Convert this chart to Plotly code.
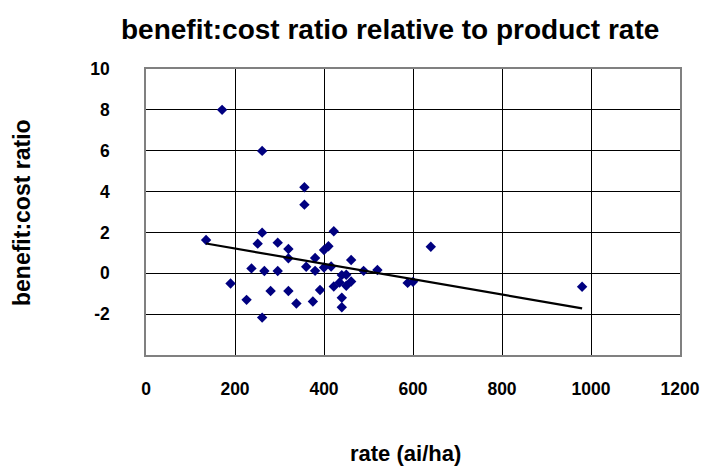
import numpy as np
import plotly.graph_objects as go

# rate (ai/ha)
rate = [135, 171, 190, 226, 237, 251, 261, 261, 261, 266, 280, 296, 296,
        320, 320, 320, 338, 356, 356, 360, 375, 380, 380, 391, 400, 400,
        410, 416, 422, 422, 435, 440, 440, 440, 450, 450, 461, 461, 489,
        520, 588, 600, 640, 980]
# benefit:cost ratio
ratio = [1.63, 8.0, -0.50, -1.30, 0.24, 1.45, 1.99, 5.99, -2.17, 0.11, -0.87,
         1.50, 0.11, 1.19, 0.73, -0.87, -1.48, 4.21, 3.36, 0.32, -1.38, 0.75,
         0.12, -0.82, 1.14, 0.28, 1.32, 0.33, 2.06, -0.65, -0.45, -0.09, -1.20,
         -1.66, -0.07, -0.61, 0.65, -0.40, 0.12, 0.16, -0.47, -0.42, 1.30, -0.66]

x_ticks = [0, 200, 400, 600, 800, 1000, 1200]
x_labels = ["0", "200", "400", "600", "800", "1000", "1200"]
y_ticks = [-2, 0, 2, 4, 6, 8, 10]
y_labels = ["-2", "0", "2", "4", "6", "8", "10"]

title_text = "benefit:cost ratio relative to product rate"
x_title = "rate (ai/ha)"
y_title = "benefit:cost ratio"

# linear trendline (least squares) over the data range
slope, intercept = np.polyfit(rate, ratio, 1)
tx = np.array([min(rate), max(rate)])
ty = slope * tx + intercept

FONT = "Liberation Sans, Arial, sans-serif"

fig = go.Figure()
fig.add_trace(go.Scatter(
    x=rate, y=ratio, mode="markers",
    marker=dict(symbol="diamond", size=8, color="#000080"),
    showlegend=False, hoverinfo="x+y"))
fig.add_trace(go.Scatter(
    x=tx, y=ty, mode="lines",
    line=dict(color="black", width=2.2),
    showlegend=False, hoverinfo="skip"))

L, R, T, B = 146, 680, 69, 355
W, H = 705, 466
pw, ph = R - L, B - T

def px(xp):
    return (xp - L) / pw

def py(yp):
    return (B - yp) / ph

tickfont = dict(size=17.5, family=FONT, color="black", weight="bold")

fig.update_layout(
    width=W, height=H,
    margin=dict(l=L, r=W - R, t=T, b=H - B, pad=0, autoexpand=False),
    paper_bgcolor="white", plot_bgcolor="white",
    font=dict(family=FONT, color="black"),
    xaxis=dict(range=[0, 1200], tickvals=x_ticks, ticktext=x_labels,
               showgrid=True, automargin=False,
               gridcolor="black", gridwidth=1, zeroline=False,
               showline=True, linecolor="#808080", linewidth=1.5, mirror=True,
               ticks="", tickfont=tickfont, ticklabelstandoff=17),
    yaxis=dict(range=[-4, 10], tickvals=y_ticks, ticktext=y_labels,
               showgrid=True, automargin=False,
               gridcolor="black", gridwidth=1, zeroline=False,
               showline=True, linecolor="#808080", linewidth=1.5, mirror=True,
               ticks="", tickfont=tickfont, ticklabelstandoff=31),
    annotations=[
        dict(text="<b>%s</b>" % title_text, xref="paper", yref="paper",
             x=px(390), y=py(30), xanchor="center", yanchor="middle",
             showarrow=False, font=dict(size=28, family=FONT, color="black")),
        dict(text="<b>%s</b>" % x_title, xref="paper", yref="paper",
             x=px(405), y=py(453), xanchor="center", yanchor="middle",
             showarrow=False, font=dict(size=22, family=FONT, color="black")),
        dict(text="<b>%s</b>" % y_title, xref="paper", yref="paper",
             x=px(22), y=py(213), xanchor="center", yanchor="middle",
             textangle=-90,
             showarrow=False, font=dict(size=23, family=FONT, color="black")),
    ],
)

fig.write_html(
    "out.html",
    config={"displayModeBar": False},
    post_script="document.body.style.margin='0';document.body.style.padding='0';",
)
